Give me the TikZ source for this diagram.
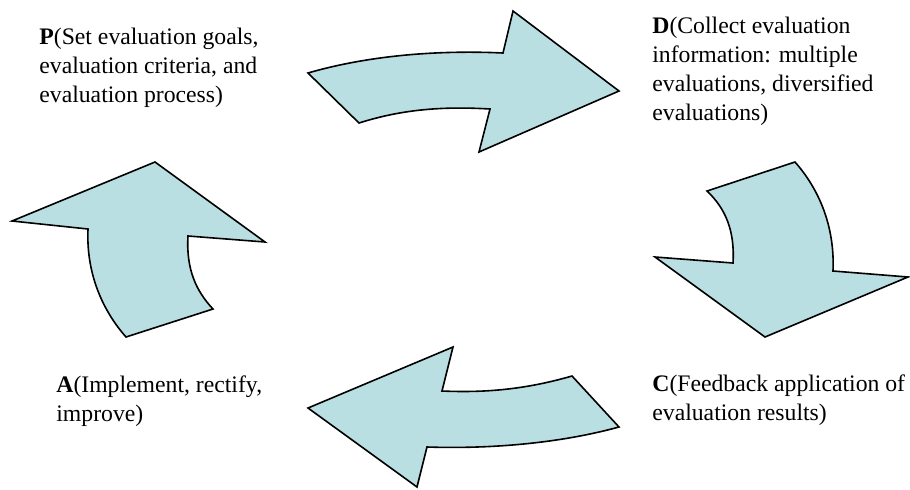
\documentclass[tikz,border=0pt]{standalone}
\usepackage{fontspec}
\setmainfont{Liberation Serif}
\usepackage{tikz}
\usepackage{xcolor}
\definecolor{cycleblue}{RGB}{185,223,226}

\begin{document}
\begin{tikzpicture}[
    x=0.5pt, y=-0.5pt,
    cyclearrow/.style={draw=black, fill=cycleblue, line width=0.8pt},
    phase/.style={anchor=base west, align=left, inner sep=0pt,
      font=\fontsize{11.85pt}{14.35pt}\selectfont}
  ]
  \useasboundingbox (0,0) rectangle (910,489);

  % P -> D
  \draw[cyclearrow] (308,73) .. controls (370,55) and (440,50) .. (503,53)
    -- (513,11) -- (619,91) -- (479,152) -- (490,109)
    .. controls (440,106) and (400,110) .. (359,123) -- cycle;
  % D -> C
  \draw[cyclearrow] (707,191) -- (795,162)
    .. controls (818,188) and (835,225) .. (833,271)
    -- (908,277) -- (765,337) -- (655,257) -- (733,263)
    .. controls (735,230) and (725,208) .. (707,191) -- cycle;
  % C -> A
  \draw[cyclearrow] (572,376) -- (619,427)
    .. controls (557,444) and (487,449) .. (427,447)
    -- (417,487) -- (308,408) -- (453,347) -- (442,391)
    .. controls (487,393) and (527,389) .. (572,376) -- cycle;
  % A -> P
  \draw[cyclearrow] (126,337) -- (213,309)
    .. controls (196,291) and (186,269) .. (188,236)
    -- (265,242) -- (155,162) -- (12,221) -- (88,229)
    .. controls (86,274) and (103,311) .. (126,337) -- cycle;

  % text labels (base = last line)
  \node[phase] (plan) at (39,102) {\textbf{P}(Set evaluation goals,\\
    evaluation criteria, and\\evaluation process)};
  \node[phase] (do) at (652,120) {\textbf{D}(Collect evaluation\\
    information: multiple\\evaluations, diversified\\evaluations)};
  \node[phase] (check) at (652,420) {\textbf{C}(Feedback application of\\
    evaluation results)};
  \node[phase] (act) at (56,421) {\textbf{A}(Implement, rectify,\\improve)};
\end{tikzpicture}
\end{document}
